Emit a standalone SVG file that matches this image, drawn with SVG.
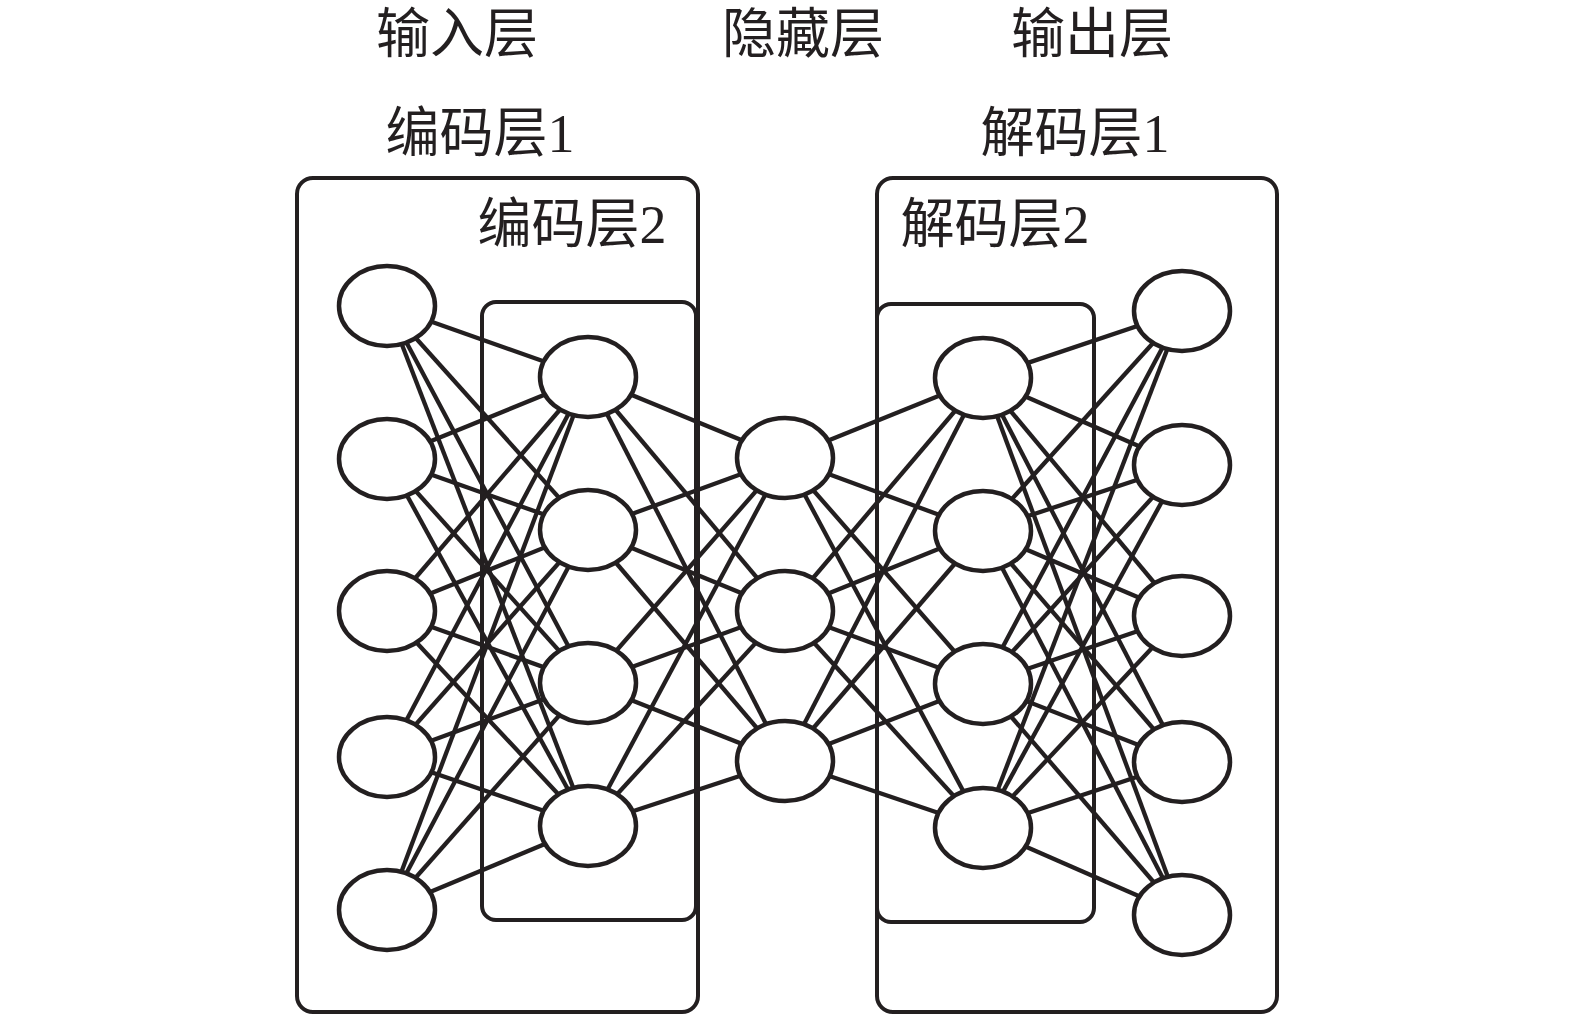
<svg xmlns="http://www.w3.org/2000/svg" width="1575" height="1020" viewBox="0 0 1575 1020">
<style>
.lbl{font-family:"Liberation Serif","Noto Sans CJK SC",serif;font-size:54px;fill:#231f20;text-anchor:middle}
.box{fill:none;stroke:#231f20;stroke-width:4}
.node{fill:#fff;stroke:#231f20;stroke-width:4.5}
.edge line{stroke:#231f20;stroke-width:4.3}
</style>
<rect width="1575" height="1020" fill="#fff"/>
<g id="labels">
<text class="lbl" x="457" y="53">输入层</text>
<text class="lbl" x="803" y="53">隐藏层</text>
<text class="lbl" x="1092" y="53">输出层</text>
<text class="lbl" x="480" y="152">编码层1</text>
<text class="lbl" x="1075" y="152">解码层1</text>
<text class="lbl" x="572" y="243">编码层2</text>
<text class="lbl" x="995" y="243">解码层2</text>
</g>
<g id="boxes">
<rect id="enc1" class="box" x="297" y="178" width="401" height="834" rx="16"/>
<rect id="enc2" class="box" x="482" y="302" width="214" height="618" rx="14"/>
<rect id="dec1" class="box" x="877" y="178" width="400" height="834" rx="16"/>
<rect id="dec2" class="box" x="877" y="304" width="217" height="618" rx="14"/>
</g>
<g id="connectors" class="edge">
<line x1="387" y1="306" x2="588" y2="377"/><line x1="387" y1="306" x2="588" y2="530"/><line x1="387" y1="306" x2="588" y2="683"/><line x1="387" y1="306" x2="588" y2="826"/>
<line x1="387" y1="459" x2="588" y2="377"/><line x1="387" y1="459" x2="588" y2="530"/><line x1="387" y1="459" x2="588" y2="683"/><line x1="387" y1="459" x2="588" y2="826"/>
<line x1="387" y1="611" x2="588" y2="377"/><line x1="387" y1="611" x2="588" y2="530"/><line x1="387" y1="611" x2="588" y2="683"/><line x1="387" y1="611" x2="588" y2="826"/>
<line x1="387" y1="757" x2="588" y2="377"/><line x1="387" y1="757" x2="588" y2="530"/><line x1="387" y1="757" x2="588" y2="683"/><line x1="387" y1="757" x2="588" y2="826"/>
<line x1="387" y1="910" x2="588" y2="377"/><line x1="387" y1="910" x2="588" y2="530"/><line x1="387" y1="910" x2="588" y2="683"/><line x1="387" y1="910" x2="588" y2="826"/>
<line x1="588" y1="377" x2="785" y2="458"/><line x1="588" y1="377" x2="785" y2="611"/><line x1="588" y1="377" x2="785" y2="761"/>
<line x1="588" y1="530" x2="785" y2="458"/><line x1="588" y1="530" x2="785" y2="611"/><line x1="588" y1="530" x2="785" y2="761"/>
<line x1="588" y1="683" x2="785" y2="458"/><line x1="588" y1="683" x2="785" y2="611"/><line x1="588" y1="683" x2="785" y2="761"/>
<line x1="588" y1="826" x2="785" y2="458"/><line x1="588" y1="826" x2="785" y2="611"/><line x1="588" y1="826" x2="785" y2="761"/>
<line x1="785" y1="458" x2="983" y2="378"/><line x1="785" y1="458" x2="983" y2="531"/><line x1="785" y1="458" x2="983" y2="684"/><line x1="785" y1="458" x2="983" y2="828"/>
<line x1="785" y1="611" x2="983" y2="378"/><line x1="785" y1="611" x2="983" y2="531"/><line x1="785" y1="611" x2="983" y2="684"/><line x1="785" y1="611" x2="983" y2="828"/>
<line x1="785" y1="761" x2="983" y2="378"/><line x1="785" y1="761" x2="983" y2="531"/><line x1="785" y1="761" x2="983" y2="684"/><line x1="785" y1="761" x2="983" y2="828"/>
<line x1="983" y1="378" x2="1182" y2="311"/><line x1="983" y1="378" x2="1182" y2="465"/><line x1="983" y1="378" x2="1182" y2="616"/><line x1="983" y1="378" x2="1182" y2="762"/><line x1="983" y1="378" x2="1182" y2="915"/>
<line x1="983" y1="531" x2="1182" y2="311"/><line x1="983" y1="531" x2="1182" y2="465"/><line x1="983" y1="531" x2="1182" y2="616"/><line x1="983" y1="531" x2="1182" y2="762"/><line x1="983" y1="531" x2="1182" y2="915"/>
<line x1="983" y1="684" x2="1182" y2="311"/><line x1="983" y1="684" x2="1182" y2="465"/><line x1="983" y1="684" x2="1182" y2="616"/><line x1="983" y1="684" x2="1182" y2="762"/><line x1="983" y1="684" x2="1182" y2="915"/>
<line x1="983" y1="828" x2="1182" y2="311"/><line x1="983" y1="828" x2="1182" y2="465"/><line x1="983" y1="828" x2="1182" y2="616"/><line x1="983" y1="828" x2="1182" y2="762"/><line x1="983" y1="828" x2="1182" y2="915"/>
</g>
<g id="nodes">
<g id="in1"><ellipse class="node" cx="387" cy="306" rx="48" ry="40"/></g>
<g id="in2"><ellipse class="node" cx="387" cy="459" rx="48" ry="40"/></g>
<g id="in3"><ellipse class="node" cx="387" cy="611" rx="48" ry="40"/></g>
<g id="in4"><ellipse class="node" cx="387" cy="757" rx="48" ry="40"/></g>
<g id="in5"><ellipse class="node" cx="387" cy="910" rx="48" ry="40"/></g>
<g id="e1"><ellipse class="node" cx="588" cy="377" rx="48" ry="40"/></g>
<g id="e2"><ellipse class="node" cx="588" cy="530" rx="48" ry="40"/></g>
<g id="e3"><ellipse class="node" cx="588" cy="683" rx="48" ry="40"/></g>
<g id="e4"><ellipse class="node" cx="588" cy="826" rx="48" ry="40"/></g>
<g id="h1"><ellipse class="node" cx="785" cy="458" rx="48" ry="40"/></g>
<g id="h2"><ellipse class="node" cx="785" cy="611" rx="48" ry="40"/></g>
<g id="h3"><ellipse class="node" cx="785" cy="761" rx="48" ry="40"/></g>
<g id="d1"><ellipse class="node" cx="983" cy="378" rx="48" ry="40"/></g>
<g id="d2"><ellipse class="node" cx="983" cy="531" rx="48" ry="40"/></g>
<g id="d3"><ellipse class="node" cx="983" cy="684" rx="48" ry="40"/></g>
<g id="d4"><ellipse class="node" cx="983" cy="828" rx="48" ry="40"/></g>
<g id="o1"><ellipse class="node" cx="1182" cy="311" rx="48" ry="40"/></g>
<g id="o2"><ellipse class="node" cx="1182" cy="465" rx="48" ry="40"/></g>
<g id="o3"><ellipse class="node" cx="1182" cy="616" rx="48" ry="40"/></g>
<g id="o4"><ellipse class="node" cx="1182" cy="762" rx="48" ry="40"/></g>
<g id="o5"><ellipse class="node" cx="1182" cy="915" rx="48" ry="40"/></g>
</g>
</svg>
